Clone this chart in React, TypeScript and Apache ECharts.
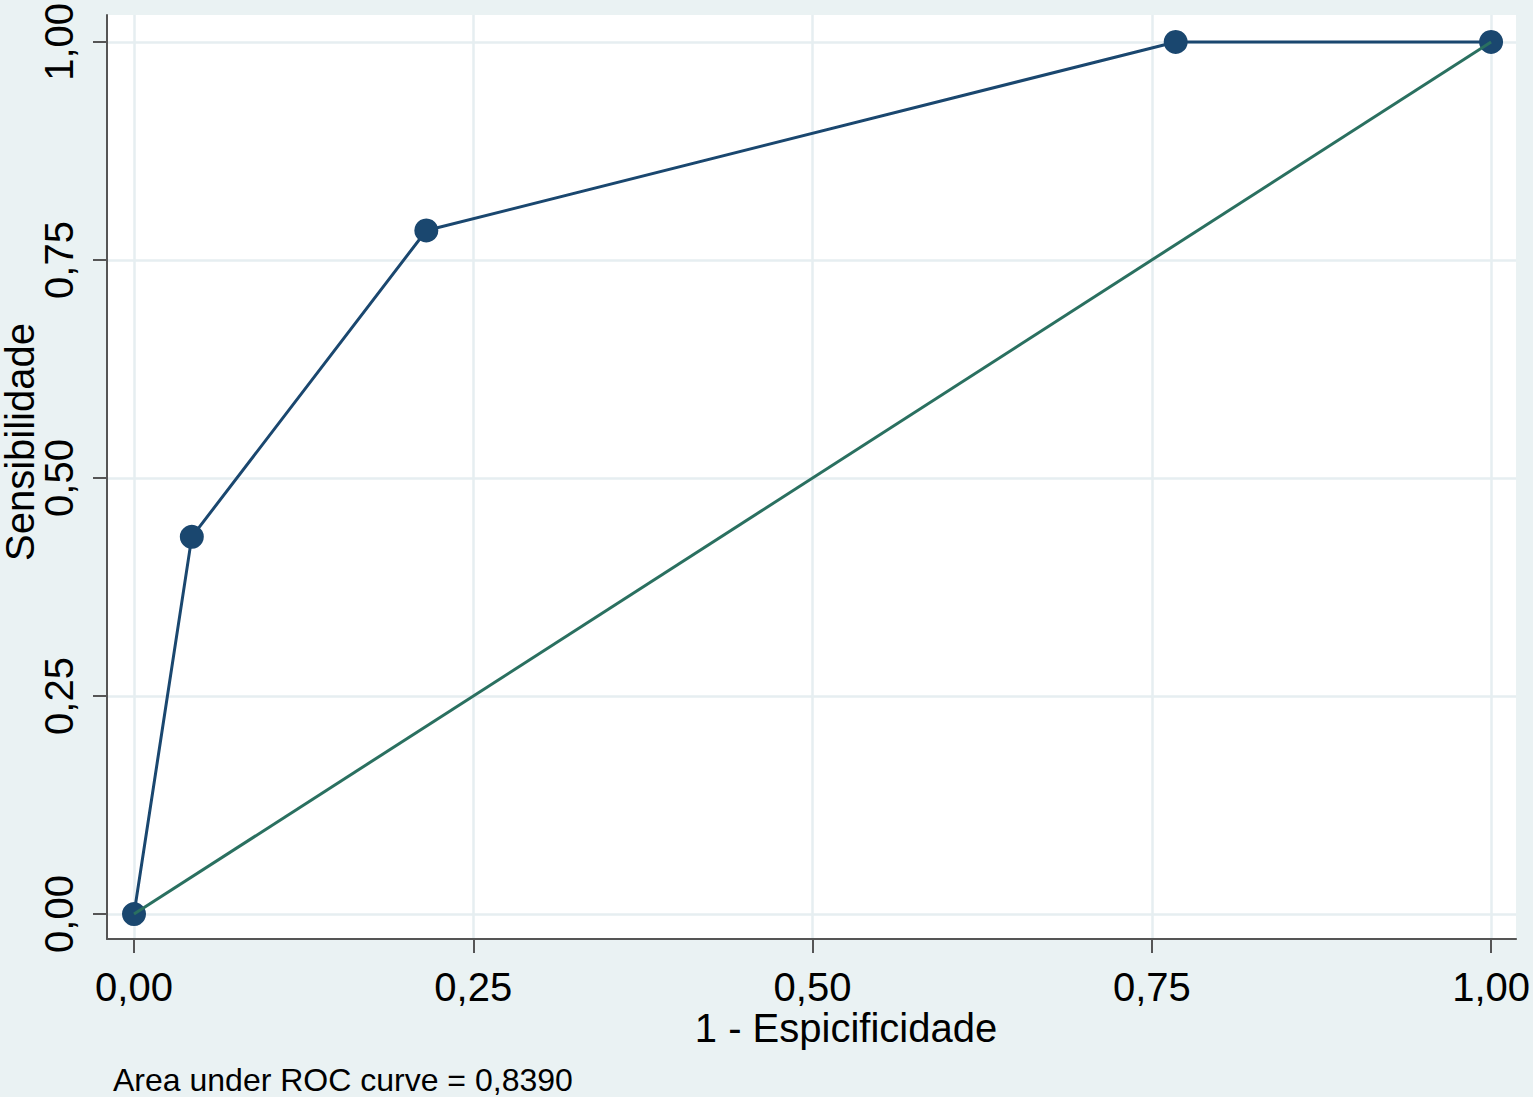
import React, { useEffect, useRef } from "react";
import * as echarts from "echarts";

const rocX = [0, 0.0426, 0.2154, 0.7676, 1];
const rocY = [0, 0.4325, 0.7838, 1, 1];
const refX = [0, 1];
const refY = [0, 1];
const tickValues = [0, 0.25, 0.5, 0.75, 1];
const xTitle = "1 - Espicificidade";
const yTitle = "Sensibilidade";
const note = "Area under ROC curve = 0,8390";

const fmt = (v: number) => v.toFixed(2).replace(".", ",");
const FONT = "'Liberation Sans', Arial, Helvetica, sans-serif";

export default function App() {
  const ref = useRef<HTMLDivElement>(null);
  useEffect(() => {
    if (!ref.current) return;
    const chart = echarts.init(ref.current, null, { renderer: "svg" });
    const axisCommon = {
      type: "value" as const,
      axisLine: { show: true, onZero: false, lineStyle: { color: "#555", width: 2 } },
      axisTick: { show: true, customValues: tickValues, length: 14, lineStyle: { color: "#555", width: 2 } },
      splitLine: { show: true, lineStyle: { color: "#e6eef1", width: 2.5 } },
    };
    chart.setOption({
      animation: false,
      backgroundColor: "#eaf2f3",
      textStyle: { fontFamily: FONT },
      grid: {
        left: 107,
        right: 14,
        top: 13,
        bottom: 158,
        show: true,
        backgroundColor: "#ffffff",
        borderWidth: 0,
      },
      xAxis: {
        ...axisCommon,
        min: -0.0199,
        max: 1.0184,
        axisLabel: {
          customValues: tickValues,
          formatter: (v: number) => fmt(v),
          fontSize: 40,
          color: "#000",
          fontFamily: FONT,
          margin: 28,
        },
      },
      yAxis: {
        ...axisCommon,
        min: -0.0286,
        max: 1.0309,
        axisLabel: {
          customValues: tickValues,
          formatter: (v: number) => fmt(v),
          fontSize: 40,
          color: "#000",
          fontFamily: FONT,
          rotate: 90,
          margin: 28,
        },
      },
      series: [
        {
          type: "line",
          data: refX.map((x, i) => [x, refY[i]]),
          showSymbol: false,
          symbol: "none",
          lineStyle: { color: "#2a7060", width: 3 },
          z: 3,
        },
        {
          type: "line",
          data: rocX.map((x, i) => [x, rocY[i]]),
          symbol: "circle",
          symbolSize: 24,
          itemStyle: { color: "#1a476f" },
          lineStyle: { color: "#1a476f", width: 3 },
          z: 2,
        },
      ],
      graphic: [
        {
          type: "text",
          x: 846,
          y: 1028,
          style: {
            text: xTitle,
            fontSize: 40,
            fontFamily: FONT,
            fill: "#000",
            align: "center",
            verticalAlign: "middle",
          },
        },
        {
          type: "text",
          x: 20,
          y: 442,
          rotation: Math.PI / 2,
          style: {
            text: yTitle,
            fontSize: 40,
            lineHeight: 36,
            fontFamily: FONT,
            fill: "#000",
            align: "center",
            verticalAlign: "middle",
          },
        },
        {
          type: "text",
          x: 113,
          y: 1080,
          style: {
            text: note,
            fontSize: 32,
            fontFamily: FONT,
            fill: "#000",
            align: "left",
            verticalAlign: "middle",
          },
        },
      ],
    });
    return () => chart.dispose();
  }, []);
  return (
    <div
      ref={ref}
      style={{ position: "absolute", left: 0, top: 0, width: 1533, height: 1097 }}
    />
  );
}
